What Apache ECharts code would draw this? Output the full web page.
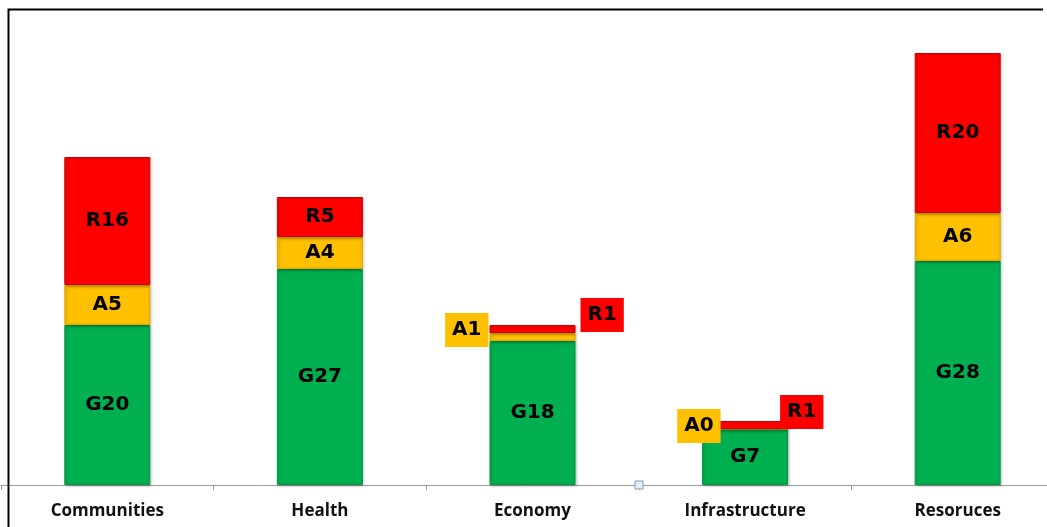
<!DOCTYPE html>
<html>
<head>
<meta charset="utf-8">
<script src="https://cdn.jsdelivr.net/npm/echarts@6/dist/echarts.min.js"></script>
<style>html,body{margin:0;padding:0;background:#fff;}#c{width:1047px;height:527px;}</style>
</head>
<body>
<div id="c"></div>
<script>
const categories = ['Communities', 'Health', 'Economy', 'Infrastructure', 'Resoruces'];
const greenValues = [20, 27, 18, 7, 28];
const amberValues = [5, 4, 1, 0, 6];
const redValues = [16, 5, 1, 1, 20];

const chart = echarts.init(document.getElementById('c'));
const labelFont = { fontFamily: 'DejaVu Sans', fontWeight: 'bold', fontSize: 20, color: '#000' };

function outsideLabel(pos, offset, bg) {
  return {
    show: true, position: pos, distance: 0, offset: offset,
    backgroundColor: bg, padding: [7, 7, 7, 7], lineHeight: 20
  };
}

const amberData = amberValues.map((v, i) => {
  if (i === 2) return { value: v, label: outsideLabel('left', [-1, -7], '#FFC000') };
  if (i === 3) return { value: v, label: outsideLabel('left', [19, -3], '#FFC000') };
  return v;
});
const redData = redValues.map((v, i) => {
  if (i === 2) return { value: v, label: outsideLabel('right', [5, -14], '#FF0000') };
  if (i === 3) return { value: v, label: outsideLabel('right', [-8, -13], '#FF0000') };
  return v;
});

function series(name, data, color, border, prefix) {
  return {
    name, type: 'bar', stack: 'all', data, barWidth: 86,
    itemStyle: { color, borderColor: border, borderWidth: 1, shadowColor: 'rgba(0,0,0,0.25)', shadowBlur: 3, shadowOffsetX: 1, shadowOffsetY: 1 },
    label: Object.assign({ show: true, position: 'inside', formatter: p => prefix + p.value }, labelFont),
    emphasis: { disabled: true }
  };
}

chart.setOption({
  animation: false,
  grid: { left: 1, top: 5, width: 1063, height: 480, outerBoundsMode: 'none', containLabel: false },
  xAxis: {
    type: 'category', data: categories,
    axisLine: { lineStyle: { color: '#9a9a9a', width: 1 } },
    axisTick: { show: true, length: 5, lineStyle: { color: '#9a9a9a' } },
    axisLabel: { margin: 18, color: '#111', fontFamily: 'Open Sans', fontWeight: 'bold', fontSize: 17 }
  },
  yAxis: { type: 'value', min: 0, max: 60, show: false, splitLine: { show: false } },
  series: [
    series('G', greenValues, '#00B050', '#009a45', 'G'),
    series('A', amberData, '#FFC000', '#e0a800', 'A'),
    series('R', redData, '#FF0000', '#cc0000', 'R')
  ],
  graphic: [
    { type: 'polyline', shape: { points: [[8.5, 527], [8.5, 9.5], [1043, 9.5]] }, style: { stroke: '#000', lineWidth: 2, fill: null }, z: 10 },
    { type: 'rect', shape: { x: 635, y: 481, width: 8, height: 8 }, style: { fill: '#dff0fb', stroke: '#7a9cc0', lineWidth: 1 }, z: 10 }
  ]
});
</script>
</body>
</html>
